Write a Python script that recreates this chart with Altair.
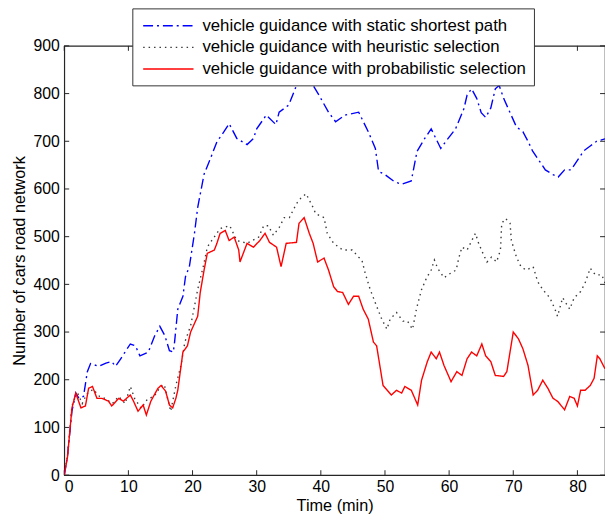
import altair as alt
import pandas as pd

series_names = [
    "vehicle guidance with static shortest path",
    "vehicle guidance with heuristic selection",
    "vehicle guidance with probabilistic selection",
]

static_t = [0, 0.5, 1.2, 1.8, 2.3, 3.0, 3.6, 4.1, 5.4, 6.5, 7.4, 8.0, 8.8, 10.3, 11.1, 11.8, 13.1, 14.1, 14.9,
            15.7, 16.4, 17.0, 17.2, 17.7, 18.5, 18.9, 19.5, 20.3, 20.8, 21.8, 22.8, 23.8, 24.9, 25.7, 26.9, 28.5,
            29.5, 30.0, 31.5, 33.0, 33.5, 35.0, 36.2, 37.5, 38.8, 39.7, 41.2, 42.3, 43.8, 45.9, 47.4, 48.5, 49.0,
            50.0, 51.5, 52.6, 54.1, 55.0, 56.2, 57.2, 58.7, 59.5, 61.0, 62.3, 62.8, 63.5, 64.3, 65.0, 65.7, 66.5,
            67.2, 67.8, 68.5, 69.5, 70.5, 71.5, 72.3, 73.0, 74.0, 75.0, 76.2, 77.0, 78.0, 79.0, 80.0, 81.0, 82.0,
            83.0, 84.3]
static_v = [0, 40, 134, 172, 161, 165, 217, 234, 228, 235, 238, 228, 244, 275, 271, 250, 258, 292, 312,
            292, 261, 258, 279, 348, 375, 416, 437, 507, 561, 631, 664, 699, 720, 737, 706, 693,
            706, 726, 755, 735, 761, 776, 817, 830, 817, 797, 761, 741, 755, 761, 720, 685, 637,
            630, 615, 610, 617, 679, 706, 726, 685, 700, 726, 768, 797, 810, 790, 760, 750, 770,
            810, 817, 790, 760, 730, 720, 700, 680, 660, 640, 630, 625, 640, 640, 660, 680, 690,
            700, 705]

heur_t = [0, 0.5, 1.2, 2.0, 2.8, 3.5, 4.5, 5.5, 6.5, 7.5, 8.5, 9.5, 10.3, 11.0, 12.0, 13.0, 14.0, 15.0, 15.6,
          16.6, 17.4, 18.2, 18.8, 19.7, 20.3, 20.8, 21.8, 22.3, 22.8, 24.3, 25.8, 26.9, 28.5, 30.3, 31.1, 31.8,
          32.6, 33.5, 34.3, 35.1, 36.2, 36.9, 37.7, 38.8, 39.2, 40.5, 41.0, 42.0, 43.4, 44.9, 45.9, 46.4, 46.9,
          47.7, 48.7, 49.5, 50.3, 50.8, 51.8, 52.8, 53.5, 54.3, 54.9, 55.7, 56.5, 57.2, 57.7, 58.2, 59.2, 60.3,
          61.1, 61.5, 62.0, 62.8, 64.1, 64.6, 65.4, 65.9, 66.6, 67.4, 68.0, 68.2, 68.8, 69.5, 69.7, 70.5, 71.2,
          72.0, 73.1, 73.8, 74.6, 75.7, 76.5, 76.9, 77.7, 78.8, 79.5, 80.5, 81.2, 82.0, 82.8, 83.8, 84.3]
heur_v = [0, 40, 145, 175, 150, 170, 180, 165, 160, 150, 165, 150, 186, 160, 140, 160, 165, 185, 190,
          134, 188, 230, 279, 313, 354, 389, 445, 478, 488, 517, 523, 492, 486, 499, 523, 523,
          503, 519, 540, 540, 569, 581, 590, 561, 548, 540, 507, 486, 472, 472, 457, 451, 424,
          389, 354, 327, 306, 327, 341, 323, 323, 306, 348, 389, 414, 430, 451, 434, 414, 424,
          430, 455, 478, 472, 507, 486, 461, 447, 457, 447, 472, 528, 538, 528, 492, 457, 437,
          430, 437, 406, 389, 372, 348, 333, 372, 348, 372, 385, 403, 434, 420, 420, 403]

prob_t = [0, 0.5, 1.2, 1.8, 2.6, 3.3, 3.8, 4.4, 5.1, 5.9, 6.9, 7.4, 8.5, 9.2, 10.3, 10.8, 11.5, 12.3, 12.8,
          13.5, 14.6, 15.1, 15.8, 16.4, 16.9, 17.4, 17.7, 18.5, 19.2, 19.7, 20.8, 21.2, 21.8, 22.3, 23.4, 23.8,
          24.3, 25.1, 25.7, 26.5, 27.2, 27.4, 28.5, 29.5, 30.5, 31.3, 32.0, 33.1, 33.8, 34.6, 36.2, 36.6, 37.4,
          38.2, 38.8, 39.5, 40.5, 41.2, 42.0, 42.6, 43.4, 44.3, 45.1, 45.9, 46.6, 47.4, 48.2, 48.7, 49.7, 51.0,
          51.8, 52.6, 53.1, 54.1, 55.1, 55.7, 56.6, 57.2, 58.0, 58.5, 59.2, 60.3, 61.2, 62.0, 62.8, 63.5, 64.3,
          65.1, 65.7, 66.5, 67.2, 68.5, 69.0, 70.0, 70.8, 71.5, 72.3, 73.1, 73.8, 74.6, 75.4, 76.2, 76.9, 78.0,
          78.8, 79.5, 80.0, 80.5, 81.2, 82.0, 82.6, 83.1, 83.5, 84.3]
prob_v = [0, 37, 141, 172, 141, 145, 182, 186, 161, 161, 155, 145, 161, 155, 168, 155, 134, 147, 126,
          155, 182, 188, 176, 147, 141, 161, 178, 258, 271, 300, 333, 383, 430, 465, 472, 486,
          507, 513, 492, 499, 472, 447, 486, 478, 492, 507, 488, 478, 437, 486, 488, 528, 540,
          507, 486, 447, 455, 430, 395, 385, 383, 358, 375, 375, 348, 327, 279, 271, 188, 168,
          178, 172, 186, 178, 147, 199, 238, 258, 244, 258, 230, 196, 217, 209, 244, 258, 250,
          275, 250, 238, 209, 207, 217, 300, 286, 265, 230, 168, 178, 199, 182, 161, 155, 137,
          165, 161, 145, 178, 178, 188, 203, 250, 244, 223]

x_ticks = [0, 10, 20, 30, 40, 50, 60, 70, 80]
y_ticks = [0, 100, 200, 300, 400, 500, 600, 700, 800, 900]

X_MAX = 84.3
Y_MAX = 900
FONT = "Liberation Sans"

rows = []
for name, ts, vs in zip(series_names, [static_t, heur_t, prob_t], [static_v, heur_v, prob_v]):
    for i, (t, v) in enumerate(zip(ts, vs)):
        rows.append({"series": name, "t": t, "v": v, "idx": i})
df = pd.DataFrame(rows)

x_scale = alt.Scale(domain=[0, X_MAX], nice=False, zero=False)
y_scale = alt.Scale(domain=[0, Y_MAX], nice=False)
color_scale = alt.Scale(domain=series_names, range=["#0000ff", "#3a3a3a", "#ff0000"])
dash_scale = alt.Scale(domain=series_names, range=[[10, 4, 2, 4], [1.5, 4], [1, 0]])

# wide horizontal line symbol: length = 3 * sqrt(symbolSize)
legend = alt.Legend(
    title=None, orient="none", legendX=69, legendY=-38,
    symbolType="M-3,0H3", symbolSize=289, symbolStrokeWidth=1.5, symbolOffset=19,
    labelFontSize=17, labelFont=FONT, labelColor="#000000", labelLimit=600,
    labelOffset=25, rowPadding=4, padding=8,
    fillColor="#ffffff", strokeColor="#333333",
)

lines = alt.Chart(df).mark_line(strokeWidth=1.4, clip=True).encode(
    x=alt.X("t:Q", scale=x_scale,
            axis=alt.Axis(values=x_ticks, title="Time (min)", format="d")),
    y=alt.Y("v:Q", scale=y_scale,
            axis=alt.Axis(values=y_ticks, title="Number of cars road network", format="d")),
    color=alt.Color("series:N", scale=color_scale, legend=legend),
    strokeDash=alt.StrokeDash("series:N", scale=dash_scale, legend=legend),
    order="idx:Q",
)

xt = pd.DataFrame({"x": x_ticks})
yt = pd.DataFrame({"y": y_ticks})
TY = 10.3
TX = 0.77
tick_style = dict(color="#262626", strokeWidth=1)

bottom_ticks = alt.Chart(xt).mark_rule(**tick_style).encode(
    x=alt.X("x:Q", scale=x_scale), y=alt.datum(0), y2=alt.datum(TY))
top_ticks = alt.Chart(xt).mark_rule(**tick_style).encode(
    x=alt.X("x:Q", scale=x_scale), y=alt.datum(Y_MAX - TY), y2=alt.datum(Y_MAX))
left_ticks = alt.Chart(yt).mark_rule(**tick_style).encode(
    y=alt.Y("y:Q", scale=y_scale), x=alt.datum(0), x2=alt.datum(TX))
right_ticks = alt.Chart(yt).mark_rule(**tick_style).encode(
    y=alt.Y("y:Q", scale=y_scale), x=alt.datum(X_MAX - TX), x2=alt.datum(X_MAX))

chart = alt.layer(bottom_ticks, top_ticks, left_ticks, right_ticks, lines).properties(
    width=548, height=435,
    autosize=alt.AutoSizeParams(type="none"),
    padding={"left": 57, "top": 35, "right": 0, "bottom": 37},
).configure_view(
    stroke="#262626", strokeWidth=1.2,
).configure_axis(
    grid=False, ticks=False, tickSize=0, domain=False,
    labelFont=FONT, labelFontSize=16, labelColor="#000000",
    titleFont=FONT, titleFontSize=16.5, titleColor="#000000", titleFontWeight="normal",
).configure_axisY(
    labelPadding=5, titlePadding=6,
).configure_axisX(
    labelPadding=4, titlePadding=3,
)

chart.save("out.html", embed_options={"renderer": "svg", "actions": False})
